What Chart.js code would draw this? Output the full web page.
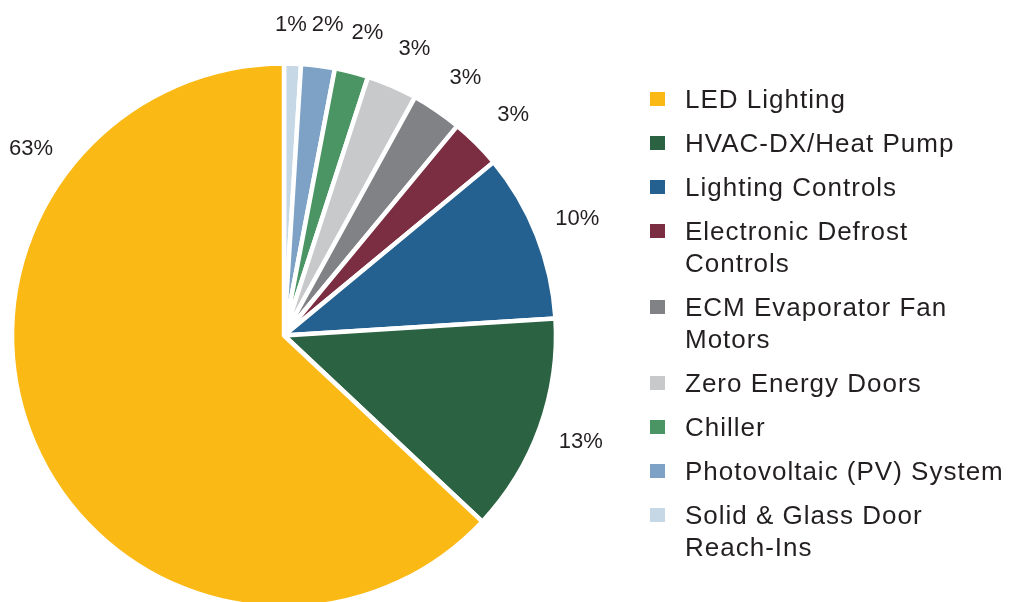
<!DOCTYPE html>
<html><head><meta charset="utf-8">
<script src="https://cdn.jsdelivr.net/npm/chart.js@4"></script>
<style>
html,body{margin:0;padding:0;background:#fff;overflow:hidden;width:1011px;height:602px;}
#wrap{position:absolute;left:0;top:0;width:1011px;height:671px;}
#legend{position:absolute;left:650px;top:83px;margin:0;padding:0;list-style:none;font-family:"Liberation Sans",Arial,sans-serif;font-size:26px;line-height:32px;letter-spacing:1px;color:#231f20;}
#legend li{position:relative;padding-left:35px;margin:0 0 12px 0;white-space:nowrap;}
#legend li .box{position:absolute;left:0;top:9px;width:15px;height:14px;}
</style></head><body>
<div id="wrap"><canvas id="c" width="1011" height="671"></canvas></div>
<ul id="legend"></ul>
<script>
// ---- data (legend order) ----
const categories = [
  ["LED Lighting"],
  ["HVAC-DX/Heat Pump"],
  ["Lighting Controls"],
  ["Electronic Defrost", "Controls"],
  ["ECM Evaporator Fan", "Motors"],
  ["Zero Energy Doors"],
  ["Chiller"],
  ["Photovoltaic (PV) System"],
  ["Solid & Glass Door", "Reach-Ins"]
];
const values = [63, 13, 10, 3, 3, 3, 2, 2, 1];
const colors = ["#FBB916", "#2A6242", "#246190", "#7B2D42", "#808285", "#C8C9CB", "#4A9563", "#7EA2C5", "#C6D7E5"];

// slices are drawn clockwise from 12 o'clock in reverse legend order
const order = values.map((v, i) => i).reverse();

const outsideLabels = {
  id: 'outsideLabels',
  afterDatasetsDraw(chart, args, opts) {
    const ctx = chart.ctx;
    const meta = chart.getDatasetMeta(0);
    ctx.save();
    ctx.font = opts.font;
    ctx.fillStyle = opts.color;
    ctx.textAlign = 'center';
    ctx.textBaseline = 'middle';
    meta.data.forEach((arc, j) => {
      const i = order[j];
      const p = arc.getProps(['x', 'y', 'startAngle', 'endAngle', 'outerRadius'], true);
      let a = (p.startAngle + p.endAngle) / 2;
      if (opts.angleOverride[i] != null) a = opts.angleOverride[i] * Math.PI / 180 - Math.PI / 2;
      const r = p.outerRadius + opts.distance;
      const n = opts.nudge[i] || [0, 0];
      ctx.fillText(values[i] + '%', p.x + Math.cos(a) * r + n[0], p.y + Math.sin(a) * r + n[1]);
    });
    ctx.restore();
  }
};

const chart = new Chart(document.getElementById('c'), {
  type: 'pie',
  data: {
    labels: order.map(i => categories[i].join(' ')),
    datasets: [{
      data: order.map(i => values[i]),
      backgroundColor: order.map(i => colors[i]),
      borderColor: '#ffffff',
      borderWidth: 4.5
    }]
  },
  options: {
    responsive: false,
    animation: false,
    radius: 272,
    layout: { padding: { left: 0, top: 0, right: 443, bottom: 0 } },
    events: [],
    plugins: {
      legend: { display: false },
      tooltip: { enabled: false },
      outsideLabels: {
        font: '22px "Liberation Sans", Arial, sans-serif',
        color: '#231f20',
        distance: 43.5,
        angleOverride: { 0: 306.7 },
        nudge: { 0: [0, 2], 3: [6, 3], 4: [4, 3], 5: [5, 3], 6: [5, 3], 7: [4, 2], 8: [-3, 5] }
      }
    }
  },
  plugins: [outsideLabels]
});

// HTML legend built from the same arrays
const ul = document.getElementById('legend');
categories.forEach((lines, i) => {
  const li = document.createElement('li');
  const box = document.createElement('span');
  box.className = 'box';
  box.style.background = colors[i];
  li.appendChild(box);
  lines.forEach((t, k) => {
    if (k) li.appendChild(document.createElement('br'));
    li.appendChild(document.createTextNode(t));
  });
  ul.appendChild(li);
});
</script>
</body></html>
